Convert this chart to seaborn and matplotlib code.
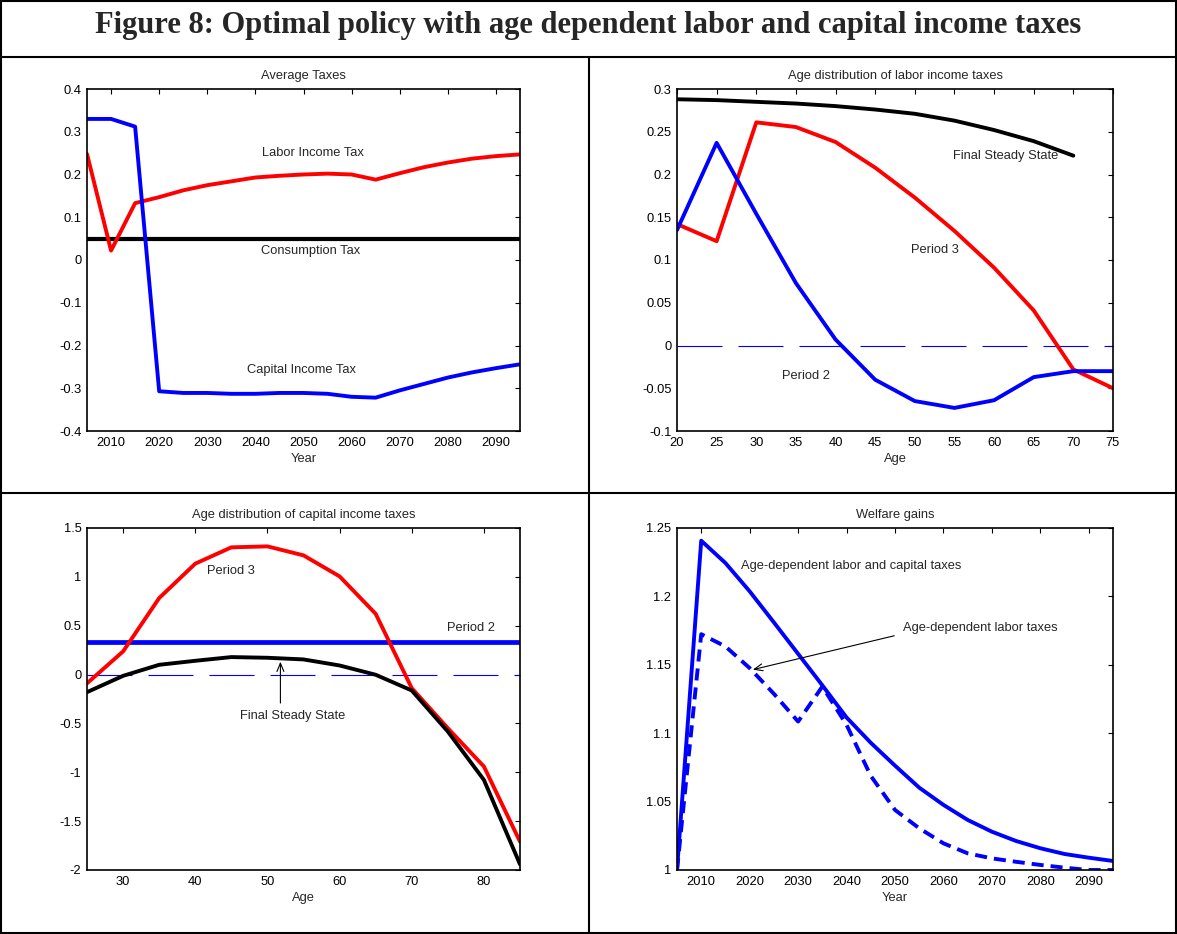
import numpy as np
import pandas as pd
import seaborn as sns
import matplotlib.pyplot as plt
from matplotlib.lines import Line2D
from matplotlib.ticker import FuncFormatter

# Panel 1: average taxes by year
years = np.arange(2005, 2100, 5)
capital_tax = [0.330, 0.330, 0.312, -0.307, -0.311, -0.311, -0.313, -0.313, -0.311, -0.311,
               -0.313, -0.320, -0.322, -0.305, -0.290, -0.275, -0.263, -0.253, -0.244]
labor_tax = [0.248, 0.022, 0.133, 0.147, 0.163, 0.175, 0.184, 0.193, 0.197, 0.200,
             0.202, 0.200, 0.188, 0.203, 0.217, 0.228, 0.237, 0.243, 0.247]
consumption_tax = [0.05] * len(years)

# Panel 2: age distribution of labor income taxes
ages_lab = np.arange(20, 80, 5)
lab_final = [0.288, 0.287, 0.285, 0.283, 0.280, 0.276, 0.271, 0.263, 0.252, 0.239, 0.222]
lab_p3 = [0.142, 0.122, 0.261, 0.2555, 0.238, 0.208, 0.173, 0.134, 0.091, 0.041, -0.028, -0.050]
lab_p2 = [0.135, 0.237, 0.154, 0.073, 0.007, -0.040, -0.065, -0.073, -0.064, -0.037, -0.030, -0.030]

# Panel 3: age distribution of capital income taxes
ages_cap = np.arange(25, 90, 5)
cap_p3 = [-0.09, 0.237, 0.783, 1.135, 1.302, 1.312, 1.22, 1.005, 0.622, -0.139, -0.549, -0.941, -1.71]
cap_final = [-0.18, -0.013, 0.10, 0.141, 0.179, 0.172, 0.155, 0.093, -0.002, -0.163, -0.583, -1.078, -1.942]
cap_p2 = [0.33] * len(ages_cap)

# Panel 4: welfare gains
welf_both = [1.0, 1.2407, 1.2244, 1.2037, 1.181, 1.158, 1.135, 1.1115, 1.093, 1.0763,
             1.0602, 1.0476, 1.0366, 1.028, 1.0212, 1.0159, 1.0117, 1.009, 1.0066]
welf_labor = [1.0, 1.1724, 1.1634, 1.1476, 1.1288, 1.1085, 1.1341, 1.1061, 1.0688, 1.0439,
              1.0305, 1.0195, 1.0122, 1.0085, 1.006, 1.0037, 1.0017, 1.0, 1.0]

sns.set_style("white")
plt.rcParams['font.family'] = ['Liberation Sans', 'DejaVu Sans']
plt.rcParams['axes.unicode_minus'] = False

RED, BLUE, BLACK = "#ff0000", "#0000ff", "#000000"
fs = 9.3
LW = 2.8
zero_dash = (0, (40.5, 14.4))

fig = plt.figure(figsize=(11.77, 9.34), dpi=100)
W, H = 1177, 934

def make_ax(left, top, right, bottom):
    return fig.add_axes([left / W, 1 - bottom / H, (right - left) / W, (bottom - top) / H])

def style(ax, title, xlabel, xlim, xticks, ylim, yticks):
    ax.set_xlim(xlim)
    ax.set_ylim(ylim)
    ax.set_xticks(xticks)
    ax.set_yticks(yticks)
    fmt = FuncFormatter(lambda v, p: f"{round(v, 6) + 0:g}")
    ax.xaxis.set_major_formatter(fmt)
    ax.yaxis.set_major_formatter(fmt)
    ax.tick_params(direction='in', top=True, right=True, length=3.5, width=0.8,
                   labelsize=fs, pad=4, colors='black')
    for s in ax.spines.values():
        s.set_visible(True)
        s.set_color('black')
        s.set_linewidth(1.2)
    ax.set_title(title, fontsize=fs, pad=7)
    ax.set_xlabel(xlabel, fontsize=fs, labelpad=3)
    ax.set_ylabel("")

ax1 = make_ax(87, 89, 520, 431)
ax2 = make_ax(677, 89, 1113, 431)
ax3 = make_ax(87, 528, 520, 870)
ax4 = make_ax(677, 528, 1113, 870)

# Panel 1
sns.lineplot(x=years, y=consumption_tax, ax=ax1, color=BLACK, linewidth=3)
sns.lineplot(x=years, y=labor_tax, ax=ax1, color=RED, linewidth=LW)
sns.lineplot(x=years, y=capital_tax, ax=ax1, color=BLUE, linewidth=LW)
style(ax1, "Average Taxes", "Year", (2005, 2095), np.arange(2010, 2100, 10),
      (-0.4, 0.4), np.round(np.arange(-0.4, 0.45, 0.1), 2))
ax1.text(2052, 0.251, "Labor Income Tax", fontsize=fs, ha='center', va='center')
ax1.text(2051.4, 0.021, "Consumption Tax", fontsize=fs, ha='center', va='center')
ax1.text(2049.6, -0.257, "Capital Income Tax", fontsize=fs, ha='center', va='center')

# Panel 2
ax2.axhline(0, color=BLUE, linewidth=0.8, linestyle=zero_dash)
sns.lineplot(x=ages_lab[:len(lab_final)], y=lab_final, ax=ax2, color=BLACK, linewidth=LW)
sns.lineplot(x=ages_lab, y=lab_p3, ax=ax2, color=RED, linewidth=LW)
sns.lineplot(x=ages_lab, y=lab_p2, ax=ax2, color=BLUE, linewidth=LW)
style(ax2, "Age distribution of labor income taxes", "Age", (20, 75), np.arange(20, 80, 5),
      (-0.1, 0.3), np.round(np.arange(-0.1, 0.31, 0.05), 2))
ax2.text(54.8, 0.222, "Final Steady State", fontsize=fs, ha='left', va='center')
ax2.text(52.6, 0.112, "Period 3", fontsize=fs, ha='center', va='center')
ax2.text(36.3, -0.036, "Period 2", fontsize=fs, ha='center', va='center')

# Panel 3
ax3.axhline(0, color=BLUE, linewidth=0.8, linestyle=zero_dash)
sns.lineplot(x=ages_cap, y=cap_p2, ax=ax3, color=BLUE, linewidth=3.4)
sns.lineplot(x=ages_cap, y=cap_p3, ax=ax3, color=RED, linewidth=LW)
sns.lineplot(x=ages_cap, y=cap_final, ax=ax3, color=BLACK, linewidth=LW)
style(ax3, "Age distribution of capital income taxes", "Age", (25, 85), np.arange(30, 90, 10),
      (-2, 1.5), np.arange(-2, 1.51, 0.5))
ax3.text(44.9, 1.063, "Period 3", fontsize=fs, ha='center', va='center')
ax3.text(78.2, 0.476, "Period 2", fontsize=fs, ha='center', va='center')
ax3.text(53.5, -0.419, "Final Steady State", fontsize=fs, ha='center', va='center')
ax3.annotate("", xy=(51.8, 0.16), xytext=(51.8, -0.32),
             arrowprops=dict(arrowstyle='->,head_length=0.6,head_width=0.25', lw=0.8, color=BLACK))

# Panel 4
sns.lineplot(x=years, y=welf_both, ax=ax4, color=BLUE, linewidth=LW)
sns.lineplot(x=years, y=welf_labor, ax=ax4, color=BLUE, linewidth=LW, linestyle=(0, (3.1, 1.8)))
style(ax4, "Welfare gains", "Year", (2005, 2095), np.arange(2010, 2100, 10),
      (1, 1.25), np.round(np.arange(1, 1.251, 0.05), 2))
ax4.text(2018.2, 1.222, "Age-dependent labor and capital taxes", fontsize=fs, ha='left', va='center')
ax4.text(2051.7, 1.177, "Age-dependent labor taxes", fontsize=fs, ha='left', va='center')
ax4.annotate("", xy=(2020.1, 1.146), xytext=(2050.4, 1.1717),
             arrowprops=dict(arrowstyle='->,head_length=0.6,head_width=0.25', lw=0.8, color=BLACK))

# Frame lines and figure title
def fline(x0, y0, x1, y1, lw=1.5):
    fig.add_artist(Line2D([x0 / W, x1 / W], [1 - y0 / H, 1 - y1 / H], color='black', linewidth=lw))

fline(1, 0, 1, H)
fline(W - 1, 0, W - 1, H)
fline(0, 1, W, 1)
fline(0, H - 1, W, H - 1)
fline(0, 57, W, 57)
fline(0, 493, W, 493)
fline(589, 57, 589, H)

fig.text(0.5, 1 - 26 / H, "Figure 8: Optimal policy with age dependent labor and capital income taxes",
         ha='center', va='center', fontsize=22, fontweight='bold',
         family=['Liberation Serif', 'DejaVu Serif'])

fig.savefig("out.png", dpi=100)
